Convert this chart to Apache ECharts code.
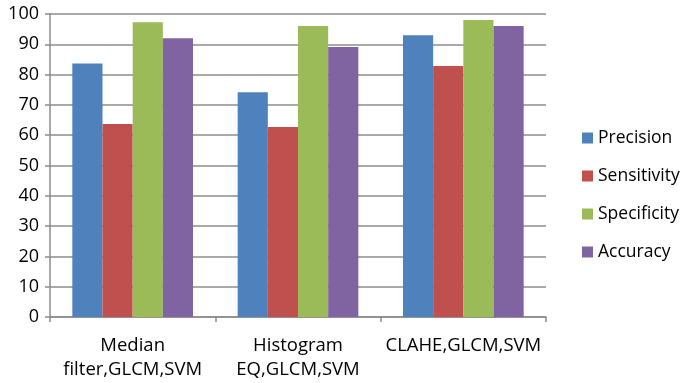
<!DOCTYPE html>
<html>
<head>
<meta charset="utf-8">
<script src="https://cdn.jsdelivr.net/npm/echarts@6/dist/echarts.min.js"></script>
<style>
html,body{margin:0;padding:0;background:#fff;}
#chart{width:683px;height:383px;}
</style>
</head>
<body>
<div id="chart"></div>
<script>
// Pipelines compared
const categories = ['Median\nfilter,GLCM,SVM', 'Histogram\nEQ,GLCM,SVM', 'CLAHE,GLCM,SVM'];
// Metric values (%) per pipeline
const precision   = [83.7, 74.2, 93.0];
const sensitivity = [63.7, 62.7, 82.8];
const specificity = [97.3, 96.0, 98.0];
const accuracy    = [92.0, 89.1, 96.0];
const seriesNames = ['Precision', 'Sensitivity', 'Specificity', 'Accuracy'];
const yTicks = [0, 100, 10];

const colors = ['#4F81BD', '#C0504D', '#9BBB59', '#8064A2'];
const font = 'Open Sans';

const chart = echarts.init(document.getElementById('chart'));
const seriesData = [precision, sensitivity, specificity, accuracy];

chart.setOption({
  animation: false,
  color: colors,
  grid: { left: 50, right: 137, top: 14, bottom: 66 },
  legend: {
    orient: 'vertical',
    left: 577,
    top: 124,
    itemWidth: 11,
    itemHeight: 11,
    itemGap: 20,
    icon: 'rect',
    textStyle: { fontFamily: font, fontSize: 17.5, color: '#000' },
    data: seriesNames
  },
  xAxis: {
    type: 'category',
    data: categories,
    axisLine: { lineStyle: { color: '#8c8c8c', width: 1.5 } },
    axisTick: { show: true, length: 5, lineStyle: { color: '#8c8c8c', width: 1.5 } },
    axisLabel: {
      fontFamily: font, fontSize: 18.5, color: '#000',
      margin: 17, lineHeight: 24, interval: 0
    }
  },
  yAxis: {
    type: 'value',
    min: yTicks[0], max: yTicks[1], interval: yTicks[2],
    axisLine: { show: true, lineStyle: { color: '#8c8c8c', width: 1.5 } },
    axisTick: { show: true, length: 5, lineStyle: { color: '#8c8c8c', width: 1.5 } },
    splitLine: { lineStyle: { color: '#8c8c8c', width: 1.5 } },
    axisLabel: { fontFamily: font, fontSize: 18, color: '#000', margin: 11 }
  },
  series: seriesNames.map((name, i) => ({
    name,
    type: 'bar',
    data: seriesData[i],
    barGap: '0%',
    barCategoryGap: '27%'
  }))
});
</script>
</body>
</html>
